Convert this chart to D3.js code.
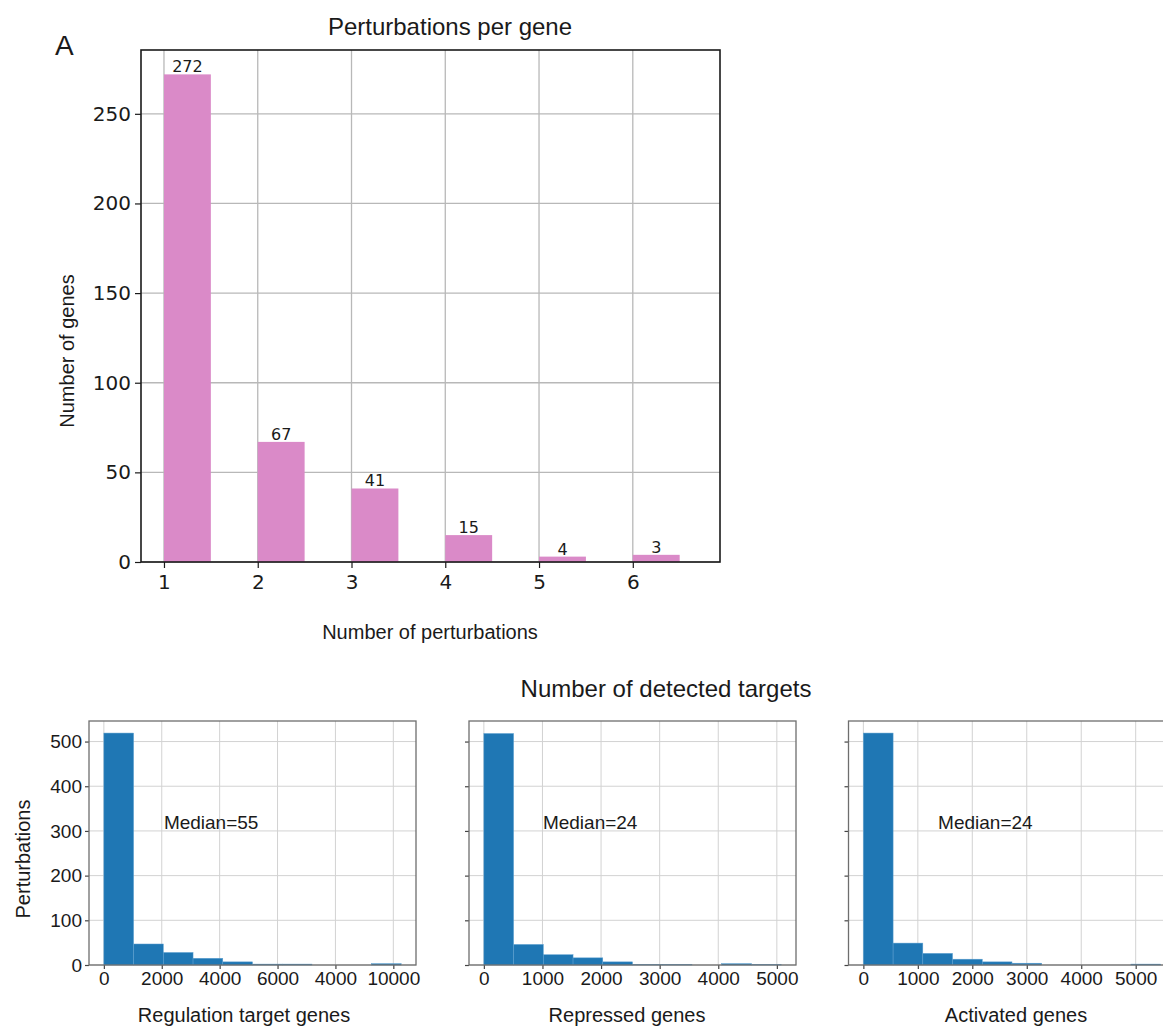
<!DOCTYPE html>
<html>
<head>
<meta charset="utf-8">
<script src="https://cdn.jsdelivr.net/npm/d3@7"></script>
<style>
body { margin: 0; background: #fff; }
svg text { fill: #1a1a1a; }
</style>
</head>
<body>
<svg id="chart" width="1163" height="1027"></svg>
<script>
var perturbCounts = [1, 2, 3, 4, 5, 6],
    geneCounts = [272, 67, 41, 15, 3, 4],
    geneLabels = ["272", "67", "41", "15", "4", "3"],
    topYTicks = [0, 50, 100, 150, 200, 250],
    regCounts = [519, 47, 28, 15, 7, 2, 2, 0, 0, 3],
    repCounts = [518, 46, 23, 16, 7, 1, 1, 0, 3, 1],
    actCounts = [519, 49, 26, 13, 7, 4, 0, 0, 0, 2],
    histMax = [10270, 5073, 5458],  //upper edge of the last bin
    regTicks = [0, 2000, 4000, 6000, 8000, 10000],
    regTickLabels = ["0", "2000", "4000", "6000", "4000", "10000"],
    repTicks = [0, 1000, 2000, 3000, 4000, 5000],
    actTicks = [0, 1000, 2000, 3000, 4000, 5000],
    botYTicks = [0, 100, 200, 300, 400, 500],
    medians = [55, 24, 24],
    panelNames = ["Regulation target genes", "Repressed genes", "Activated genes"];

var SANS = "'Liberation Sans', Arial, sans-serif",
    DJV = "'DejaVu Sans', sans-serif";


function styleAxis(sel, font, size, color) {
    sel.select(".domain").remove();
    sel.selectAll(".tick line").attr("stroke", color).attr("stroke-width", 1.2);
    sel.selectAll(".tick text")
        .attr("font-family", font)
        .attr("font-size", size)
        .attr("fill", "#1a1a1a");
}


function drawTop(svg) {
    var box = {l: 141, r: 720, t: 50, b: 562},
        bw = 0.5,
        x = d3.scaleLinear().domain([0.755, 6.93]).range([box.l, box.r]),
        y = d3.scaleLinear().domain([0, 285.6]).range([box.b, box.t]),
        g = svg.append("g"), ax;

    //grid sits under the bars
    g.selectAll("line.vgrid").data(perturbCounts).enter().append("line")
        .attr("x1", d => x(d)).attr("x2", d => x(d))
        .attr("y1", box.t).attr("y2", box.b)
        .attr("stroke", "#b8b8b8").attr("stroke-width", 1.3);
    g.selectAll("line.hgrid").data(topYTicks).enter().append("line")
        .attr("x1", box.l).attr("x2", box.r)
        .attr("y1", d => y(d)).attr("y2", d => y(d))
        .attr("stroke", "#b8b8b8").attr("stroke-width", 1.3);

    g.selectAll("rect.bar").data(geneCounts).enter().append("rect")
        .attr("x", (d, i) => x(perturbCounts[i]))
        .attr("width", (d, i) => x(perturbCounts[i] + bw) - x(perturbCounts[i]))
        .attr("y", d => y(d))
        .attr("height", d => y(0) - y(d))
        .attr("fill", "#da8ac8");

    g.selectAll("text.blab").data(geneCounts).enter().append("text")
        .attr("x", (d, i) => x(perturbCounts[i] + bw / 2))
        .attr("y", d => y(d) - 2)
        .attr("text-anchor", "middle")
        .attr("font-family", DJV)
        .attr("font-size", 16)
        .text((d, i) => geneLabels[i]);

    ax = g.append("g").attr("transform", "translate(" + box.l + ",0)")
        .call(d3.axisLeft(y).tickValues(topYTicks).tickSize(6).tickPadding(4));
    styleAxis(ax, DJV, 20, "#1a1a1a");
    ax = g.append("g").attr("transform", "translate(0," + box.b + ")")
        .call(d3.axisBottom(x).tickValues(perturbCounts).tickSize(6).tickPadding(7)
              .tickFormat(d3.format("d")));
    styleAxis(ax, DJV, 20, "#1a1a1a");

    g.append("rect")
        .attr("x", box.l).attr("y", box.t)
        .attr("width", box.r - box.l).attr("height", box.b - box.t)
        .attr("fill", "none").attr("stroke", "#1a1a1a").attr("stroke-width", 1.6);

    g.append("text").attr("x", 55).attr("y", 55)
        .attr("font-family", SANS).attr("font-size", 28).text("A");
    g.append("text").attr("x", 450).attr("y", 35)
        .attr("text-anchor", "middle")
        .attr("font-family", SANS).attr("font-size", 24)
        .text("Perturbations per gene");
    g.append("text").attr("x", 430).attr("y", 639)
        .attr("text-anchor", "middle")
        .attr("font-family", SANS).attr("font-size", 20)
        .text("Number of perturbations");
    g.append("text")
        .attr("transform", "translate(74,351) rotate(-90)")
        .attr("text-anchor", "middle")
        .attr("font-family", SANS).attr("font-size", 20)
        .text("Number of genes");
}


function drawPanel(svg, p) {
    var box = {l: p.left, r: p.left + 327, t: 721, b: 965},
        max = histMax[p.idx],
        bin = max / p.counts.length,
        x = d3.scaleLinear().domain([-0.05 * max, 1.05 * max]).range([box.l, box.r]),
        y = d3.scaleLinear().domain([0, 546]).range([box.b, box.t]),
        g = svg.append("g"), ax, yAxis;

    g.selectAll("line.vgrid").data(p.ticks).enter().append("line")
        .attr("x1", d => x(d)).attr("x2", d => x(d))
        .attr("y1", box.t).attr("y2", box.b)
        .attr("stroke", "#d2d2d2").attr("stroke-width", 1);
    g.selectAll("line.hgrid").data(botYTicks).enter().append("line")
        .attr("x1", box.l).attr("x2", box.r)
        .attr("y1", d => y(d)).attr("y2", d => y(d))
        .attr("stroke", "#d2d2d2").attr("stroke-width", 1);

    g.selectAll("rect.bar").data(p.counts).enter().append("rect")
        .attr("x", (d, i) => x(i * bin))
        .attr("width", x(bin) - x(0))
        .attr("y", d => y(d))
        .attr("height", d => y(0) - y(d))
        .attr("fill", "#1f77b4")
        .attr("stroke", "#5d9fcf").attr("stroke-width", 0.5);

    yAxis = d3.axisLeft(y).tickValues(botYTicks).tickSize(4).tickPadding(3);
    if(!p.yLabels) {
        yAxis.tickFormat(""); }
    ax = g.append("g").attr("transform", "translate(" + box.l + ",0)").call(yAxis);
    styleAxis(ax, SANS, 19, "#444");
    ax = g.append("g").attr("transform", "translate(0," + box.b + ")")
        .call(d3.axisBottom(x).tickValues(p.ticks).tickSize(4).tickPadding(3)
              .tickFormat((d, i) => p.tickLabels[i]));
    styleAxis(ax, SANS, 19, "#444");

    g.append("rect")
        .attr("x", box.l).attr("y", box.t)
        .attr("width", box.r - box.l).attr("height", box.b - box.t)
        .attr("fill", "none").attr("stroke", "#6e6e6e").attr("stroke-width", 1.3);

    g.append("text").attr("x", box.l + p.medFrac * 327).attr("y", 829)
        .attr("font-family", SANS).attr("font-size", 19)
        .text("Median=" + medians[p.idx]);
    g.append("text").attr("x", p.labelX).attr("y", 1022)
        .attr("text-anchor", "middle")
        .attr("font-family", SANS).attr("font-size", 20)
        .text(panelNames[p.idx]);
}


function drawBottom(svg) {
    drawPanel(svg, {idx: 0, left: 89, counts: regCounts, ticks: regTicks,
                    tickLabels: regTickLabels, yLabels: true,
                    medFrac: 0.229, labelX: 244});
    drawPanel(svg, {idx: 1, left: 469, counts: repCounts, ticks: repTicks,
                    tickLabels: repTicks.map(String), yLabels: false,
                    medFrac: 0.226, labelX: 627});
    drawPanel(svg, {idx: 2, left: 848.5, counts: actCounts, ticks: actTicks,
                    tickLabels: actTicks.map(String), yLabels: false,
                    medFrac: 0.274, labelX: 1016});
    svg.append("text").attr("x", 666).attr("y", 697)
        .attr("text-anchor", "middle")
        .attr("font-family", SANS).attr("font-size", 24)
        .text("Number of detected targets");
    svg.append("text")
        .attr("transform", "translate(30,859) rotate(-90)")
        .attr("text-anchor", "middle")
        .attr("font-family", SANS).attr("font-size", 20)
        .text("Perturbations");
}


(function () {
    var svg = d3.select("#chart");
    svg.append("rect").attr("width", 1163).attr("height", 1027).attr("fill", "#fff");
    drawTop(svg);
    drawBottom(svg);
}());
</script>
</body>
</html>
